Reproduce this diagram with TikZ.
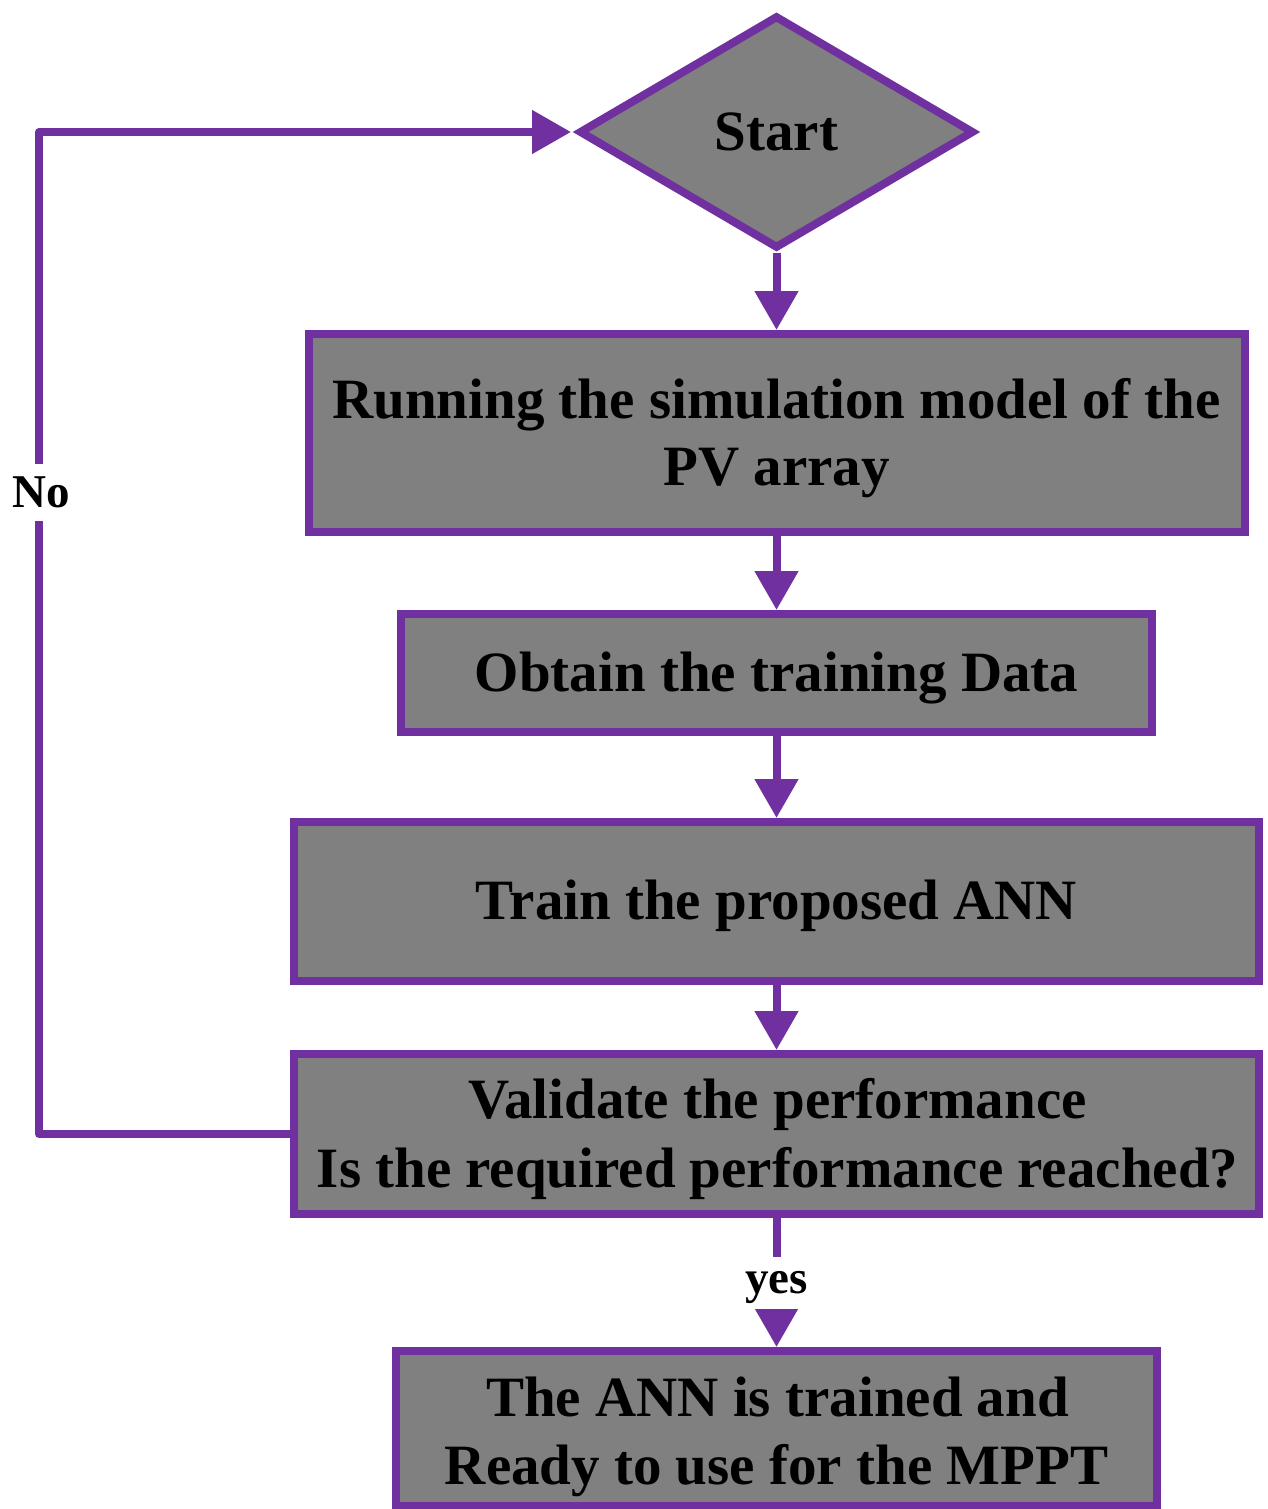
\documentclass[tikz,border=0pt]{standalone}
\usepackage{fontspec}
\setmainfont{Liberation Serif}
\usetikzlibrary{arrows.meta,shapes.geometric}
\definecolor{flowpurple}{HTML}{7030A0}
\definecolor{boxgray}{HTML}{808080}
\begin{document}
\begin{tikzpicture}[x=1pt,y=-1pt,
  stepbox/.style={rectangle, draw=flowpurple, fill=boxgray, line width=8pt, inner sep=0pt},
  steptext/.style={anchor=base, inner sep=0pt, font=\bfseries\fontsize{57}{67}\selectfont},
  flow/.style={draw=flowpurple, line width=8pt, -{Triangle[width=42pt,length=39pt]}},
  tag/.style={fill=white, inner sep=0pt, font=\bfseries\fontsize{47}{56}\selectfont}
]
% page
\fill[white] (0,0) rectangle (1267,1509);
\useasboundingbox (0,0) rectangle (1267,1509);

% start symbol
\node[diamond, draw=flowpurple, fill=boxgray, line width=8pt, inner sep=0pt,
      minimum width=395pt, minimum height=233pt,
      font=\bfseries\fontsize{57}{67}\selectfont] (start) at (776.5,132) {Start};

% process boxes
\node[stepbox, minimum width=936pt, minimum height=198pt] (b1) at (776.5,433) {};
\node[stepbox, minimum width=751pt, minimum height=118pt] (b2) at (776.5,673) {};
\node[stepbox, minimum width=965pt, minimum height=159pt] (b3) at (776.5,901.5) {};
\node[stepbox, minimum width=965pt, minimum height=160pt] (b4) at (776.5,1134) {};
\node[stepbox, minimum width=761pt, minimum height=155pt] (b5) at (776.5,1428.5) {};

% box texts
\node[steptext] (t1a) at (776.5,418) {Running the simulation model of the};
\node[steptext] (t1b) at (776.5,485) {PV array};
\node[steptext] (t2)  at (776.5,691) {Obtain the training Data};
\node[steptext] (t3)  at (776.5,919) {Train the proposed ANN};
\node[steptext] (t4a) at (777.5,1118) {Validate the performance};
\node[steptext] (t4b) at (777.5,1187) {Is the required performance reached?};
\node[steptext] (t5a) at (777.5,1416) {The ANN is trained and};
\node[steptext] (t5b) at (776.5,1484) {Ready to use for the MPPT};

% main flow
\draw[flow] (start.south) -- (b1.north);
\draw[flow] (b1.south) -- (b2.north);
\draw[flow] (b2.south) -- (b3.north);
\draw[flow] (b3.south) -- (b4.north);
\draw[flow] (b4.south) -- node[tag, text depth=0pt, minimum height=52pt] (yes) {yes} (b5.north);

% feedback loop
\coordinate (loopbot) at (39,1134);
\coordinate (looptop) at (39,132);
\draw[flow, line join=round] (b4.west) -- (loopbot)
  -- node[tag, pos=0.64, minimum height=57pt, xshift=2pt] (no) {No} (looptop)
  -- ([xshift=-4pt]start.west);
\end{tikzpicture}
\end{document}
